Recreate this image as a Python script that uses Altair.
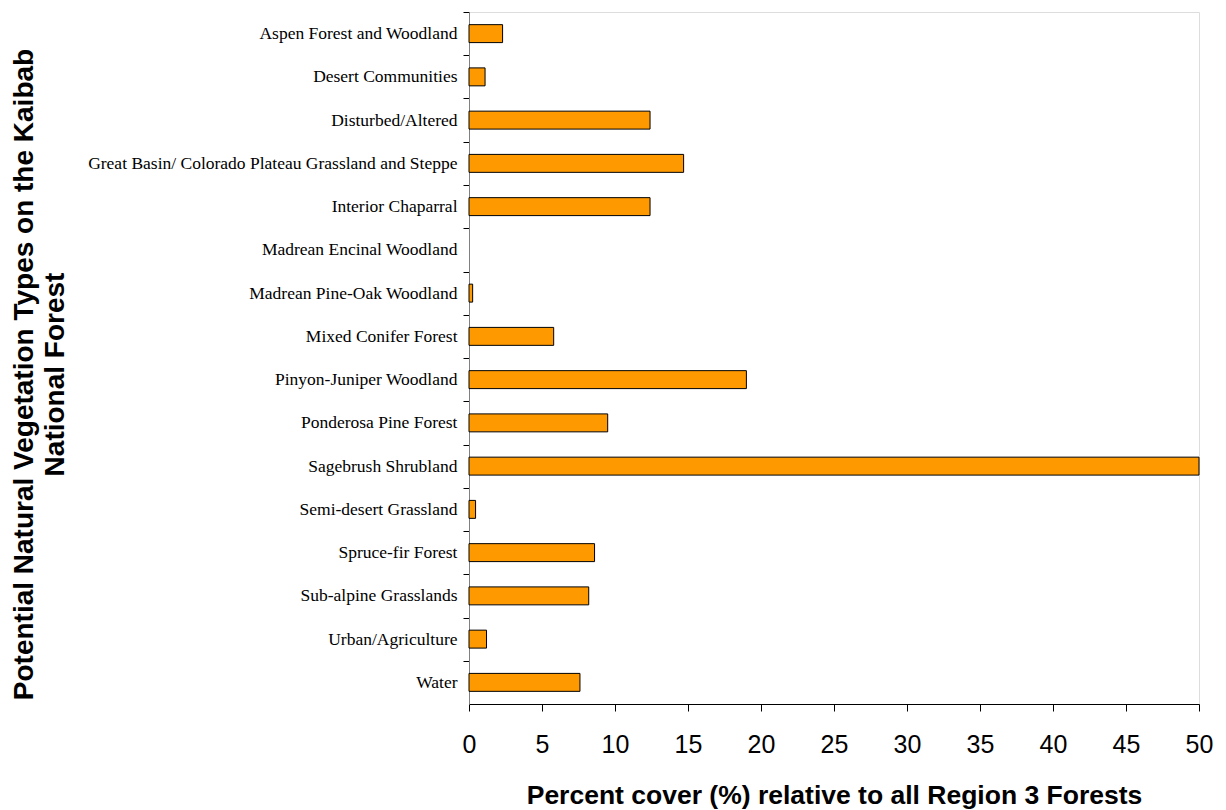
import altair as alt
import pandas as pd

categories = [
    "Aspen Forest and Woodland",
    "Desert Communities",
    "Disturbed/Altered",
    "Great Basin/ Colorado Plateau Grassland and Steppe",
    "Interior Chaparral",
    "Madrean Encinal Woodland",
    "Madrean Pine-Oak Woodland",
    "Mixed Conifer Forest",
    "Pinyon-Juniper Woodland",
    "Ponderosa Pine Forest",
    "Sagebrush Shrubland",
    "Semi-desert Grassland",
    "Spruce-fir Forest",
    "Sub-alpine Grasslands",
    "Urban/Agriculture",
    "Water",
]
values = [2.3, 1.1, 12.4, 14.7, 12.4, 0.0, 0.25, 5.8, 19.0, 9.5, 50.0, 0.45, 8.6, 8.2, 1.2, 7.6]
x_ticks = [0, 5, 10, 15, 20, 25, 30, 35, 40, 45, 50]

df = pd.DataFrame({"category": categories, "value": values})

step = 692 / 16

chart = (
    alt.Chart(df)
    .mark_bar(color="#FF9900", stroke="#000000", strokeWidth=1)
    .encode(
        y=alt.Y(
            "category:N",
            sort=categories,
            scale=alt.Scale(paddingInner=0.585, paddingOuter=0.2925),
            axis=alt.Axis(
                title=["Potential Natural Vegetation Types on the Kaibab", "National Forest"],
                titleFont="Liberation Sans",
                titleFontSize=28,
                titleFontWeight="bold",
                titleColor="#000000",
                titleAngle=270,
                titleBaseline="middle",
                titleAlign="center",
                titleLineHeight=31,
                titleX=-445,
                titleY=362,
                labelFont="Liberation Serif",
                labelFontSize=17.5,
                labelColor="#000000",
                labelPadding=6,
                labelLimit=500,
                tickSize=6,
                tickOffset=-step / 2,
                labelOffset=step / 2,
                tickColor="#000000",
                domainColor="#808080",
                grid=False,
            ),
        ),
        x=alt.X(
            "value:Q",
            scale=alt.Scale(domain=[0, 50], nice=False, clamp=True),
            axis=alt.Axis(
                values=x_ticks,
                title="Percent cover (%) relative to all Region 3 Forests",
                titleFont="Liberation Sans",
                titleFontSize=26.5,
                titleFontWeight="bold",
                titleColor="#000000",
                titleBaseline="middle",
                titleX=365,
                titleY=91,
                labelFont="Liberation Sans",
                labelFontSize=25,
                labelColor="#000000",
                labelPadding=21,
                labelFlush=False,
                tickSize=7,
                tickColor="#000000",
                domainColor="#000000",
                grid=False,
            ),
        ),
        strokeOpacity=alt.condition("datum.value > 0", alt.value(1), alt.value(0)),
    )
    .properties(
        width=730,
        height=692,
        autosize=alt.AutoSizeParams(type="none"),
        padding={"left": 461, "top": 4, "right": 19, "bottom": 110},
    )
    .configure_view(stroke=None)
    .configure(background="#FFFFFF")
)

chart.save("out.html", embed_options={"renderer": "svg", "actions": False})
